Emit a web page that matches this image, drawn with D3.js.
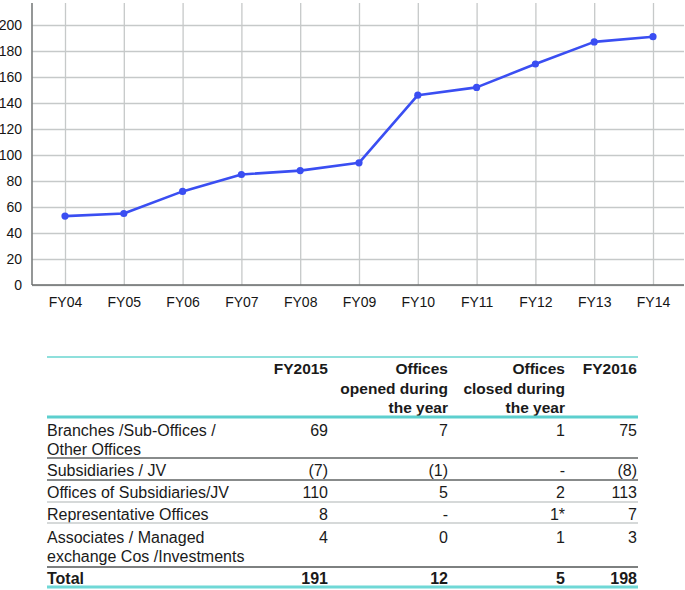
<!DOCTYPE html>
<html>
<head>
<meta charset="utf-8">
<script src="https://cdn.jsdelivr.net/npm/d3@7"></script>
<style>
  html, body { margin: 0; padding: 0; background: #fff; }
  svg { display: block; font-family: "Liberation Sans", Arial, Helvetica, sans-serif; }
</style>
</head>
<body>
<svg id="c" width="685" height="590"></svg>
<script>
// ---- data ----
const years = ["FY04","FY05","FY06","FY07","FY08","FY09","FY10","FY11","FY12","FY13","FY14"];
const offices = [53, 55, 72, 85, 88, 94, 146, 152, 170, 187, 191];
const yTicks = [0, 20, 40, 60, 80, 100, 120, 140, 160, 180, 200];

const tableHeaders = [["FY2015"], ["Offices", "opened during", "the year"], ["Offices", "closed during", "the year"], ["FY2016"]];
const rowLabels = [["Branches /Sub-Offices /", "Other Offices"], ["Subsidiaries / JV"], ["Offices of Subsidiaries/JV"], ["Representative Offices"], ["Associates / Managed", "exchange Cos /Investments"]];
const colFY2015 = ["69", "(7)", "110", "8", "4"];
const colOpened = ["7", "(1)", "5", "-", "0"];
const colClosed = ["1", "-", "2", "1*", "1"];
const colFY2016 = ["75", "(8)", "113", "7", "3"];
const totalRow = ["Total", "191", "12", "5", "198"];

// ---- chart ----
const svg = d3.select("#c");
const x = d3.scalePoint().domain(years).range([65, 653]);
const y = d3.scaleLinear().domain([0, 200]).range([285, 25]);
const plotLeft = 32, plotRight = 684, plotTop = 3;

const gy = svg.append("g").attr("transform", `translate(${plotLeft},0)`)
  .call(d3.axisLeft(y).tickValues(yTicks).tickSize(-(plotRight - plotLeft)).tickPadding(10));
gy.select(".domain").remove();
gy.selectAll(".tick line").attr("stroke", "#c6c9c9").attr("stroke-width", 1.3);
gy.selectAll(".tick text").attr("font-size", 14).attr("fill", "#151515")
  .attr("font-family", "'Liberation Sans', Arial, sans-serif");

const gx = svg.append("g").attr("transform", `translate(0,${y(0)})`)
  .call(d3.axisBottom(x).tickSize(-(y(0) - plotTop)).tickPadding(12));
gx.select(".domain").remove();
gx.selectAll(".tick line").attr("stroke", "#c6c9c9").attr("stroke-width", 1.3);
gx.selectAll(".tick text").attr("font-size", 14).attr("fill", "#151515")
  .attr("font-family", "'Liberation Sans', Arial, sans-serif");

// axis lines
svg.append("line").attr("x1", plotLeft).attr("x2", plotLeft).attr("y1", plotTop).attr("y2", y(0))
  .attr("stroke", "#7a7d7d").attr("stroke-width", 1.6);
svg.append("line").attr("x1", plotLeft).attr("x2", plotRight).attr("y1", y(0)).attr("y2", y(0))
  .attr("stroke", "#6a6d6d").attr("stroke-width", 1.6);

const line = d3.line().x((d, i) => x(years[i])).y(d => y(d));
svg.append("path").datum(offices).attr("d", line)
  .attr("fill", "none").attr("stroke", "#3a4ef2").attr("stroke-width", 2.6).attr("stroke-linejoin", "round");
svg.append("g").selectAll("circle").data(offices).join("circle")
  .attr("cx", (d, i) => x(years[i])).attr("cy", d => y(d)).attr("r", 3.6).attr("fill", "#3a4ef2");

// ---- table ----
const tLeft = 47, tRight = 638;
const colRight = [328, 448, 565, 637];
const tg = svg.append("g").attr("fill", "#1a1a1a").attr("font-size", 16);

function hline(yy, color, w) {
  svg.append("line").attr("x1", tLeft).attr("x2", tRight).attr("y1", yy).attr("y2", yy)
    .attr("stroke", color).attr("stroke-width", w);
}
hline(357, "#8fe0dc", 2.2);
hline(417, "#5ccfce", 3);
hline(458, "#888b8b", 2);
hline(480, "#888b8b", 2);
hline(502, "#c9cccc", 1.5);
hline(523, "#c9cccc", 1.5);
hline(567, "#7d8080", 2);
hline(587, "#6fd8d6", 3);

const headerLineY = [369, 389, 408];
tableHeaders.forEach((lines, ci) => {
  lines.forEach((t, li) => {
    tg.append("text").attr("x", colRight[ci]).attr("y", headerLineY[li]).attr("dy", "0.35em")
      .attr("text-anchor", "end").attr("font-weight", "bold").attr("font-size", 15.5).text(t);
  });
});

const rowY = [430, 470, 492, 514, 537];
const lineGap = 19;
const cols = [colFY2015, colOpened, colClosed, colFY2016];
rowLabels.forEach((lines, ri) => {
  lines.forEach((t, li) => {
    tg.append("text").attr("x", tLeft).attr("y", rowY[ri] + li * lineGap).attr("dy", "0.35em").text(t);
  });
  cols.forEach((col, ci) => {
    tg.append("text").attr("x", colRight[ci]).attr("y", rowY[ri]).attr("dy", "0.35em")
      .attr("text-anchor", "end").text(col[ri]);
  });
});

const totalY = 578;
tg.append("text").attr("x", tLeft).attr("y", totalY).attr("dy", "0.35em").attr("font-weight", "bold").text(totalRow[0]);
totalRow.slice(1).forEach((t, ci) => {
  tg.append("text").attr("x", colRight[ci]).attr("y", totalY).attr("dy", "0.35em")
    .attr("text-anchor", "end").attr("font-weight", "bold").text(t);
});
</script>
</body>
</html>
